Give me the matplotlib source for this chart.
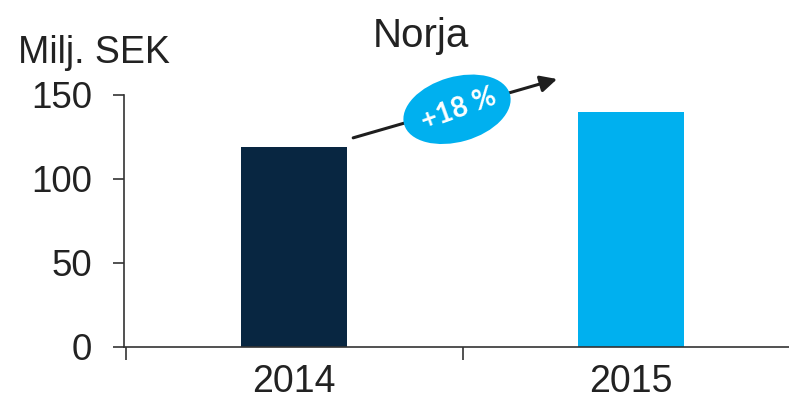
import matplotlib.pyplot as plt
import matplotlib.transforms as mtransforms
from matplotlib.patches import Ellipse
import numpy as np

# data
years = ['2014', '2015']
values = [119, 140]
colors = ['#082641', '#00b0ef']
change = '+18 %'

plt.rcParams['font.family'] = ['Liberation Sans', 'DejaVu Sans']
txt = '#222222'

fig = plt.figure(figsize=(7.89, 4.03), dpi=100)
ax = fig.add_axes([124/789, 56/403, 1 - 124/789, 252/403])

x = np.arange(len(years))
ax.bar(x, values, width=0.315, color=colors)

ax.set_yticks([0, 50, 100, 150])
ax.tick_params(axis='y', labelsize=26.5, length=8, width=1.2, colors='#333333',
               labelcolor=txt, pad=15)

# tick marks between categories, labels under the bars
ax.set_xticks([-0.5, 0.5])
ax.set_xticklabels([])
ax.set_xticks(x, minor=True)
ax.set_xticklabels(years, minor=True)
ax.tick_params(axis='x', which='major', length=9, width=1.2, colors='#333333')
ax.tick_params(axis='x', which='minor', length=0, labelsize=27, labelcolor=txt, pad=12)

# limits after ticks (set_xticks can widen the view)
ax.set_xlim(-0.505, 1.468)
ax.set_ylim(0, 150)

for s in ['top', 'right']:
    ax.spines[s].set_visible(False)
for s in ['left', 'bottom']:
    ax.spines[s].set_color('#333333')
    ax.spines[s].set_linewidth(1.2)

fig.text(421/789, 1 - 47/403, 'Norja', fontsize=29, color=txt, ha='center', va='baseline')
fig.text(18/789, 1 - 63/403, 'Milj. SEK', fontsize=27, color=txt, ha='left', va='baseline')

# growth arrow with ellipse label
ax.annotate('', xy=(0.78, 159.5), xytext=(0.175, 124.5),
            arrowprops=dict(arrowstyle='-|>,head_length=1.0,head_width=0.5',
                            color='#1e1e1e', lw=2.2, shrinkA=0, shrinkB=0),
            annotation_clip=False)
cx, cy = 0.483, 141.5
tr = fig.dpi_scale_trans + mtransforms.ScaledTranslation(cx, cy, ax.transData)
ax.add_patch(Ellipse((0, 0), 1.1, 0.65, angle=16, transform=tr,
                     fc='#00b0ef', ec='none', clip_on=False, zorder=3))
ax.text(cx + 0.005, cy, change, fontsize=20, fontweight='bold', color='white',
        family=['Lato', 'DejaVu Sans'],
        rotation=20, ha='center', va='center', rotation_mode='anchor',
        clip_on=False, zorder=4)

fig.savefig('out.png', dpi=100)
